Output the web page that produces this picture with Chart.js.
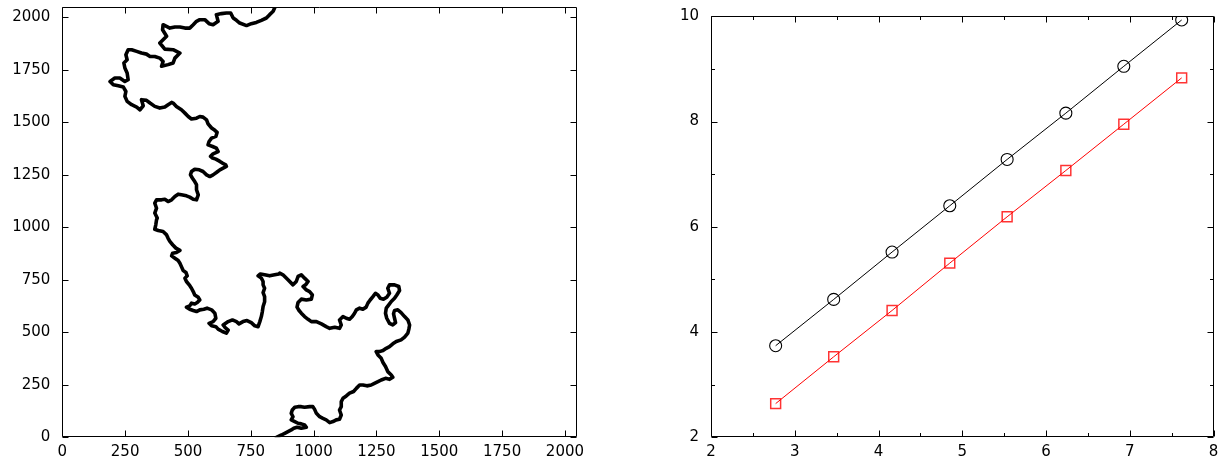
<!DOCTYPE html>
<html>
<head>
<meta charset="utf-8">
<script src="https://cdn.jsdelivr.net/npm/chart.js@4"></script>
<style>
  html, body { margin: 0; padding: 0; background: #fff; }
  #wrap { position: relative; width: 1222px; height: 459px; overflow: hidden; background: #fff; }
  canvas { position: absolute; top: 0; }
</style>
</head>
<body>
<div id="wrap">
  <canvas id="left" width="610" height="459" style="left:0px;width:610px;height:459px"></canvas>
  <canvas id="right" width="582" height="459" style="left:640px;width:582px;height:459px"></canvas>
</div>
<script>
// ---- Left panel: walk path (data units) ----
const walkX = [852,872,885,898,911,921,934,951,971,964,
  951,938,925,911,918,911,915,925,938,951,
  964,984,997,1004,1011,1024,1037,1050,1064,1077,
  1090,1103,1110,1103,1110,1110,1117,1130,1143,1159,
  1170,1183,1196,1212,1229,1242,1256,1269,1286,1302,
  1315,1309,1295,1286,1276,1269,1256,1249,1262,1276,
  1289,1302,1315,1329,1348,1362,1375,1379,1382,1375,
  1362,1348,1335,1322,1318,1322,1326,1315,1302,1291,
  1286,1289,1299,1309,1322,1331,1342,1339,1322,1302,
  1295,1302,1291,1278,1265,1256,1246,1236,1225,1216,
  1209,1196,1183,1170,1163,1154,1143,1130,1117,1103,
  1110,1103,1084,1064,1050,1031,1011,991,978,964,
  951,942,934,938,951,971,991,995,984,971,
  958,968,978,964,951,938,931,918,898,878,865,
  862,845,825,805,788,779,792,799,799,
  805,799,805,805,799,796,792,786,779,766,
  752,735,719,703,693,677,660,640,647,660,
  653,637,620,611,594,584,600,611,607,594,
  576,563,547,534,521,507,494,507,514,527,
  537,547,541,527,521,514,505,494,488,497,
  492,481,474,468,461,448,435,439,454,468,
  452,439,428,421,415,401,382,368,372,375,
  378,368,375,368,375,395,408,421,435,448,
  461,474,494,507,521,534,541,534,534,527,
  518,510,514,527,545,560,574,587,600,613,
  627,640,653,650,637,627,611,598,590,600,
  620,613,598,580,584,594,611,616,607,594,
  580,574,560,547,534,514,501,488,474,454,
  441,435,421,408,388,368,349,335,315,322,
  309,296,276,258,249,253,243,223,203,190,
  209,229,249,262,258,249,245,258,253,262,
  276,296,315,335,349,368,388,401,395,421,
  441,448,468,441,408,388,415,399,401,428,
  448,468,488,507,521,534,547,567,584,600,
  620,613,633,653,670,680,693,706,733,752,
  772,792,812,825,839,846];
const walkY = [0,11,19,27,35,43,48,43,48,59,
  64,67,75,83,98,114,130,143,146,146,
  143,146,146,133,114,98,90,83,70,75,
  83,86,106,130,146,170,186,197,210,218,
  233,249,249,245,249,257,265,273,281,276,
  286,297,313,337,356,376,392,408,408,413,
  424,432,445,456,464,477,496,515,535,559,
  575,594,607,604,588,567,546,535,543,567,
  591,615,631,647,662,678,699,718,726,726,
  710,686,667,658,662,678,686,670,654,639,
  620,610,615,607,591,575,562,567,575,559,
  535,519,524,519,527,540,551,551,562,575,
  591,604,620,642,658,654,658,678,694,702,
  718,726,742,758,774,766,742,726,750,774,782,
  778,774,769,774,778,769,758,742,726,
  710,689,670,646,623,599,575,551,527,531,
  546,556,551,540,551,559,551,535,524,511,
  496,504,515,527,531,543,551,567,591,607,
  615,610,607,599,604,610,620,626,639,635,
  642,654,667,678,694,710,726,742,758,769,
  785,794,813,829,842,853,864,877,880,890,
  901,917,933,948,964,980,985,991,1012,1036,
  1044,1068,1091,1115,1131,1131,1134,1123,1131,1147,
  1158,1155,1150,1144,1134,1131,1155,1179,1203,1218,
  1234,1250,1266,1277,1274,1266,1250,1242,1250,1261,
  1274,1282,1290,1298,1306,1314,1325,1330,1338,1350,
  1361,1377,1385,1393,1409,1425,1433,1452,1462,1473,
  1493,1512,1525,1528,1520,1516,1528,1544,1560,1576,
  1592,1595,1584,1573,1568,1576,1592,1605,1608,1579,
  1560,1573,1584,1600,1624,1647,1668,1674,1679,1695,
  1711,1711,1695,1703,1735,1759,1783,1798,1822,1846,
  1846,1838,1830,1825,1814,1814,1806,1790,1767,1775,
  1783,1806,1830,1846,1849,1878,1910,1941,1965,1949,
  1954,1954,1949,1949,1965,1981,1989,1989,1970,1965,
  1981,2013,2018,2021,2021,1997,1986,1973,1961,1970,
  1976,1986,1997,2013,2029,2048];
const walkTicks = [0,250,500,750,1000,1250,1500,1750,2000];
const walkMax = 2048;

// ---- Right panel: two series ----
const sizeX   = [2.772,3.465,4.162,4.851,5.536,6.237,6.929,7.62];
const circleY = [3.74,4.62,5.52,6.40,7.28,8.16,9.05,9.93];
const squareY = [2.64,3.53,4.41,5.31,6.19,7.07,7.95,8.83];
const rightXTicks = [2,3,4,5,6,7,8];
const rightXMinor = [2.5,3.5,4.5,5.5,6.5,7.5];
const rightYTicks = [2,4,6,8,10];
const rightYMinor = [3,5,7,9];

Chart.defaults.font.family = "'DejaVu Sans', 'Liberation Sans', sans-serif";
Chart.defaults.font.size = 15;
Chart.defaults.color = '#000';
Chart.defaults.animation = false;

function zeroPad(s) { s.paddingTop = 0; s.paddingBottom = 0; s.paddingLeft = 0; s.paddingRight = 0; }

function framePlugin(xMaj, xMin, yMaj, yMin, majLen, minLen) {
  return {
    id: 'frameTicks',
    afterDraw(chart) {
      const ctx = chart.ctx, a = chart.chartArea, x = chart.scales.x, y = chart.scales.y;
      const L = Math.round(a.left) + 0.5, R = Math.round(a.right) - 0.5;
      const T = Math.round(a.top) + 0.5, B = Math.round(a.bottom) - 0.5;
      ctx.save();
      ctx.strokeStyle = '#000';
      ctx.lineWidth = 1;
      ctx.beginPath();
      ctx.rect(L, T, R - L, B - T);
      const vx = (v, len) => { const p = Math.round(x.getPixelForValue(v)) + 0.5;
        ctx.moveTo(p, B); ctx.lineTo(p, B - len); ctx.moveTo(p, T); ctx.lineTo(p, T + len); };
      const vy = (v, len) => { const p = Math.round(y.getPixelForValue(v)) + 0.5;
        ctx.moveTo(L, p); ctx.lineTo(L + len, p); ctx.moveTo(R, p); ctx.lineTo(R - len, p); };
      xMaj.forEach(v => vx(v, majLen)); xMin.forEach(v => vx(v, minLen));
      yMaj.forEach(v => vy(v, majLen)); yMin.forEach(v => vy(v, minLen));
      ctx.stroke();
      ctx.restore();
    }
  };
}

function axis(min, max, ticksArr, isX, size, pad) {
  return {
    type: 'linear', min: min, max: max,
    grid: { display: false, drawTicks: false },
    border: { display: false },
    ticks: { padding: pad, autoSkip: false, maxRotation: 0, color: '#000',
             callback: v => String(v) },
    afterBuildTicks: s => { s.ticks = ticksArr.map(v => ({ value: v })); },
    afterFit: s => { if (isX) s.height = size; else s.width = size; zeroPad(s); }
  };
}

// Left chart
new Chart(document.getElementById('left'), {
  type: 'scatter',
  data: {
    datasets: [{
      data: walkX.map((v, i) => ({ x: v, y: walkY[i] })),
      showLine: true,
      borderColor: '#000',
      borderWidth: 3.6,
      pointRadius: 0,
      tension: 0,
      borderJoinStyle: 'round',
      borderCapStyle: 'round'
    }]
  },
  options: {
    responsive: false,
    layout: { padding: { left: 0, top: 7.3, right: 33, bottom: 0 } },
    plugins: { legend: { display: false }, tooltip: { enabled: false } },
    scales: {
      x: axis(0, walkMax, walkTicks, true, 21.7, 6),
      y: axis(0, walkMax, walkTicks, false, 62.3, 12)
    }
  },
  plugins: [framePlugin(walkTicks, [], walkTicks, [], 6, 3)]
});

// Right chart
new Chart(document.getElementById('right'), {
  type: 'scatter',
  data: {
    datasets: [{
      data: sizeX.map((v, i) => ({ x: v, y: circleY[i] })),
      showLine: true,
      borderColor: '#000',
      borderWidth: 1,
      pointStyle: 'circle',
      pointRadius: 6,
      pointBorderWidth: 1.1,
      pointBorderColor: '#000',
      pointBackgroundColor: 'rgba(0,0,0,0)'
    }, {
      data: sizeX.map((v, i) => ({ x: v, y: squareY[i] })),
      showLine: true,
      borderColor: '#ff0000',
      borderWidth: 1,
      pointStyle: 'rect',
      pointRadius: 7,
      pointBorderWidth: 1.5,
      pointBorderColor: 'rgba(255,0,0,0.8)',
      pointBackgroundColor: 'rgba(0,0,0,0)'
    }]
  },
  options: {
    responsive: false,
    layout: { padding: { left: 0, top: 16.3, right: 6, bottom: 0 } },
    plugins: { legend: { display: false }, tooltip: { enabled: false } },
    scales: {
      x: axis(2, 8, rightXTicks, true, 21.7, 6),
      y: axis(2, 10, rightYTicks, false, 71, 12)
    }
  },
  plugins: [framePlugin(rightXTicks, rightXMinor, rightYTicks, rightYMinor, 6, 3.5)]
});
</script>
</body>
</html>
